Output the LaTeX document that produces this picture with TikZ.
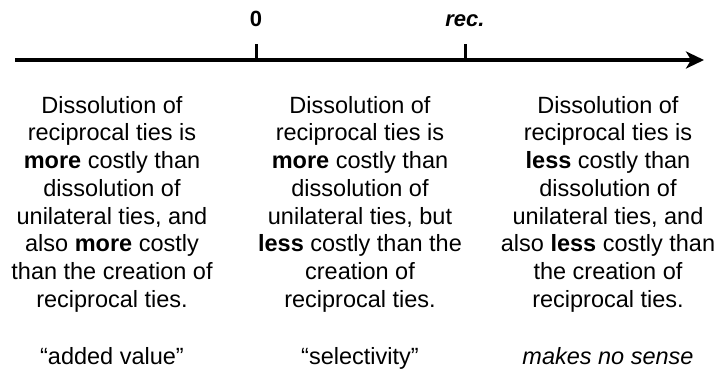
\documentclass[tikz,border=0pt]{standalone}
\usepackage{fontspec}
\setmainfont{Liberation Sans}
\usetikzlibrary{arrows.meta}
\begin{document}
\begin{tikzpicture}[x=1pt,y=-1pt,
  desc/.style={align=center,inner sep=0pt,anchor=north,font=\fontsize{23.5}{27.7}\selectfont},
  tag/.style={inner sep=0pt,anchor=base,font=\fontsize{23.5}{27.7}\selectfont},
  ticklab/.style={inner sep=0pt,anchor=base,font=\fontsize{22}{26}\selectfont\bfseries},
  axisline/.style={line width=3.3pt,-{Stealth[length=18pt,width=17pt,inset=5pt]}},
  tickline/.style={line width=3pt}]
\useasboundingbox (0,0) rectangle (718,375);
\coordinate (a0) at (15,60);
\coordinate (a1) at (704,60);
\draw[axisline] (a0) -- (a1);
\coordinate (t0b) at (256,60);
\coordinate (t0t) at (256,44);
\coordinate (t1b) at (465,60);
\coordinate (t1t) at (465,44);
\draw[tickline] (t0b) -- (t0t);
\draw[tickline] (t1b) -- (t1t);
\node[ticklab] (l0) at (256,26) {0};
\node[ticklab] (l1) at (465,26) {\itshape rec.};
\node[desc] (c1) at (112,96) {Dissolution of\\reciprocal ties is\\\textbf{more} costly than\\dissolution of\\unilateral ties, and\\also \textbf{more} costly\\than the creation of\\reciprocal ties.};
\node[desc] (c2) at (360,96) {Dissolution of\\reciprocal ties is\\\textbf{more} costly than\\dissolution of\\unilateral ties, but\\\textbf{less} costly than the\\creation of\\reciprocal ties.};
\node[desc] (c3) at (608,96) {Dissolution of\\reciprocal ties is\\\textbf{less} costly than\\dissolution of\\unilateral ties, and\\also \textbf{less} costly than\\the creation of\\reciprocal ties.};
\node[tag] (b1) at (112,364) {“added value”};
\node[tag] (b2) at (360,364) {“selectivity”};
\node[tag] (b3) at (608,364) {\itshape makes no sense};
\end{tikzpicture}
\end{document}
